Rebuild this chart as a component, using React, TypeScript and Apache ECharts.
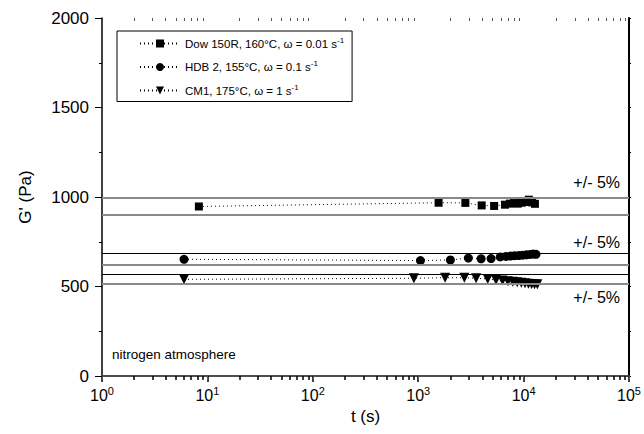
import React, { useEffect, useRef } from "react";
import * as echarts from "echarts";

// ---- data ----
const seriesNames = [
  "Dow 150R, 160°C, ω = 0.01 s",
  "HDB 2, 155°C, ω = 0.1 s",
  "CM1, 175°C, ω = 1 s",
];

const dowT = [8.3, 1560, 2800, 4000, 5250, 6650, 7400, 8100, 8800, 9600, 10400, 11200, 12000, 12800];
const dowG = [947, 968, 967, 953, 950, 957, 963, 966, 963, 968, 972, 985, 970, 962];

const hdbT = [6, 1050, 2020, 2990, 3950, 4910, 6000, 6800, 7500, 8200, 9000, 9800, 10600, 11500, 12300, 13100];
const hdbG = [652, 645, 648, 659, 655, 656, 665, 668, 670, 672, 673, 675, 677, 679, 681, 680];

const cmT = [6, 910, 1800, 2740, 3540, 4560, 5470, 6300, 7100, 7900, 8700, 9500, 10300, 11100, 11900, 12700, 13500];
const cmG = [540, 546, 549, 549, 546, 542, 537, 533, 530, 527, 524, 521, 518, 516, 514, 513, 512];

// +/- 5% band limits
const bandGrey = [996, 903, 622, 514];
const bandBlack = [685, 568];
// label placement per band line: [value, position, vertical distance]
const bandLabels: [number, string, number][] = [
  [996, "insideEndTop", 7],
  [685, "insideEndTop", 3],
  [514, "insideEndBottom", 6],
];

const yTicks = { min: 0, max: 2000, interval: 500 };
const xRange = { min: 1, max: 100000 };
const xMinorTicks: number[] = [];
for (let d = 0; d < 5; d++) {
  for (let m = 2; m <= 9; m++) xMinorTicks.push(m * Math.pow(10, d));
}

const FONT = "'Liberation Sans', Arial, Helvetica, sans-serif";

export default function App() {
  const ref = useRef<HTMLDivElement>(null);

  useEffect(() => {
    if (!ref.current) return;
    const chart = echarts.init(ref.current, undefined, { renderer: "svg" });

    const labelFor = (v: number) => {
      const l = bandLabels.find((b) => b[0] === v);
      if (!l) return { show: false };
      return {
        show: true,
        formatter: "+/- 5%",
        position: l[1],
        distance: [9, l[2]],
        color: "#000",
        fontSize: 16,
        fontFamily: FONT,
      };
    };

    const markData: any[] = [];
    bandGrey.forEach((v) => {
      markData.push({
        yAxis: v,
        lineStyle: { color: "#8a8a8a", width: 2, type: "solid" },
        label: labelFor(v),
      });
    });
    bandBlack.forEach((v) => {
      markData.push({
        yAxis: v,
        lineStyle: { color: "#000", width: 1, type: "solid" },
        label: labelFor(v),
      });
    });

    const lineCommon = {
      type: "line",
      xAxisIndex: 0,
      yAxisIndex: 0,
      lineStyle: { color: "#000", width: 1, type: [1, 3] as any },
      itemStyle: { color: "#000" },
      emphasis: { disabled: true },
      z: 3,
    };

    const logAxisBase = {
      type: "log",
      logBase: 10,
      min: xRange.min,
      max: xRange.max,
      splitLine: { show: false },
    };

    const gridBox = { left: 102, top: 18, width: 528, height: 358, containLabel: false };

    const option: any = {
      animation: false,
      textStyle: { fontFamily: FONT },
      grid: [gridBox, { ...gridBox }],
      legend: {
        data: seriesNames,
        orient: "vertical",
        left: 117,
        top: 31,
        padding: [5, 8, 5, 22],
        itemWidth: 40,
        itemHeight: 10,
        itemGap: 10,
        borderColor: "#000",
        borderWidth: 1,
        selectedMode: false,
        formatter: (name: string) => `{a|${name}}{s|-1}`,
        textStyle: {
          color: "#000",
          fontFamily: FONT,
          rich: {
            a: { fontSize: 11.5, lineHeight: 15, fontFamily: FONT, color: "#000" },
            s: { fontSize: 8, lineHeight: 15, verticalAlign: "top", fontFamily: FONT, color: "#000" },
          },
        },
      },
      xAxis: [
        {
          ...logAxisBase,
          gridIndex: 0,
          name: "t (s)",
          nameLocation: "middle",
          nameGap: 26,
          nameTextStyle: { fontSize: 17, color: "#000", fontFamily: FONT },
          axisLine: { lineStyle: { color: "#000", width: 1.5 } },
          axisTick: { show: true, length: 6, lineStyle: { color: "#000", width: 1.5 } },
          axisLabel: {
            margin: 9,
            color: "#000",
            formatter: (v: number) => `{b|10}{s|${Math.round(Math.log10(v))}}`,
            rich: {
              b: { fontSize: 16, fontFamily: FONT, color: "#000", lineHeight: 20 },
              s: { fontSize: 11, fontFamily: FONT, color: "#000", verticalAlign: "top", lineHeight: 20 },
            },
          },
        },
        {
          ...logAxisBase,
          gridIndex: 0,
          position: "top",
          axisLine: { lineStyle: { color: "#555", width: 1.5 } },
          axisTick: { show: true, inside: true, length: 4, lineStyle: { color: "#555", width: 1 } },
          axisLabel: { show: false },
        },
        {
          ...logAxisBase,
          gridIndex: 1,
          position: "bottom",
          axisLine: { show: false },
          axisTick: {
            show: true,
            customValues: xMinorTicks,
            length: 4,
            lineStyle: { color: "#000", width: 1.5 },
          },
          axisLabel: { show: false },
        },
        {
          ...logAxisBase,
          gridIndex: 1,
          position: "top",
          axisLine: { show: false },
          axisTick: {
            show: true,
            inside: true,
            customValues: xMinorTicks,
            length: 3,
            lineStyle: { color: "#555", width: 1 },
          },
          axisLabel: { show: false },
        },
      ],
      yAxis: [
        {
          type: "value",
          gridIndex: 0,
          min: yTicks.min,
          max: yTicks.max,
          interval: yTicks.interval,
          name: "G' (Pa)",
          nameLocation: "middle",
          nameGap: 68,
          nameTextStyle: { fontSize: 17, color: "#000", fontFamily: FONT },
          axisLine: { show: true, lineStyle: { color: "#000", width: 1.5 } },
          axisTick: { show: true, length: 7, lineStyle: { color: "#000", width: 1 } },
          minorTick: { show: true, splitNumber: 2, length: 3, lineStyle: { color: "#000", width: 1 } },
          splitLine: { show: false },
          axisLabel: {
            fontSize: 17,
            color: "#000",
            margin: 13,
            fontFamily: FONT,
            formatter: (v: number) => String(v),
          },
        },
        {
          type: "value",
          gridIndex: 0,
          min: yTicks.min,
          max: yTicks.max,
          interval: yTicks.interval,
          position: "right",
          axisLine: { show: true, lineStyle: { color: "#000", width: 2 } },
          axisTick: { show: true, length: 2, lineStyle: { color: "#000", width: 1 } },
          minorTick: { show: true, splitNumber: 2, length: 2, lineStyle: { color: "#000", width: 1 } },
          splitLine: { show: false },
          axisLabel: { show: false },
        },
        {
          type: "value",
          gridIndex: 1,
          min: yTicks.min,
          max: yTicks.max,
          show: false,
        },
      ],
      series: [
        {
          ...lineCommon,
          name: seriesNames[0],
          symbol: "rect",
          symbolSize: 8,
          data: dowT.map((t, i) => [t, dowG[i]]),
          markLine: {
            silent: true,
            symbol: "none",
            animation: false,
            data: markData,
          },
        },
        {
          ...lineCommon,
          name: seriesNames[1],
          symbol: "circle",
          symbolSize: 9,
          data: hdbT.map((t, i) => [t, hdbG[i]]),
        },
        {
          ...lineCommon,
          name: seriesNames[2],
          symbol: "triangle",
          symbolRotate: 180,
          symbolSize: 10,
          data: cmT.map((t, i) => [t, cmG[i]]),
        },
      ],
      graphic: [
        {
          type: "text",
          left: 112,
          top: 347,
          style: { text: "nitrogen atmosphere", fontSize: 13.5, fill: "#000", fontFamily: FONT },
        },
      ],
    };

    chart.setOption(option);
    return () => chart.dispose();
  }, []);

  return (
    <div
      ref={ref}
      style={{ position: "fixed", left: 0, top: 0, width: 644, height: 434, background: "#fff" }}
    />
  );
}
